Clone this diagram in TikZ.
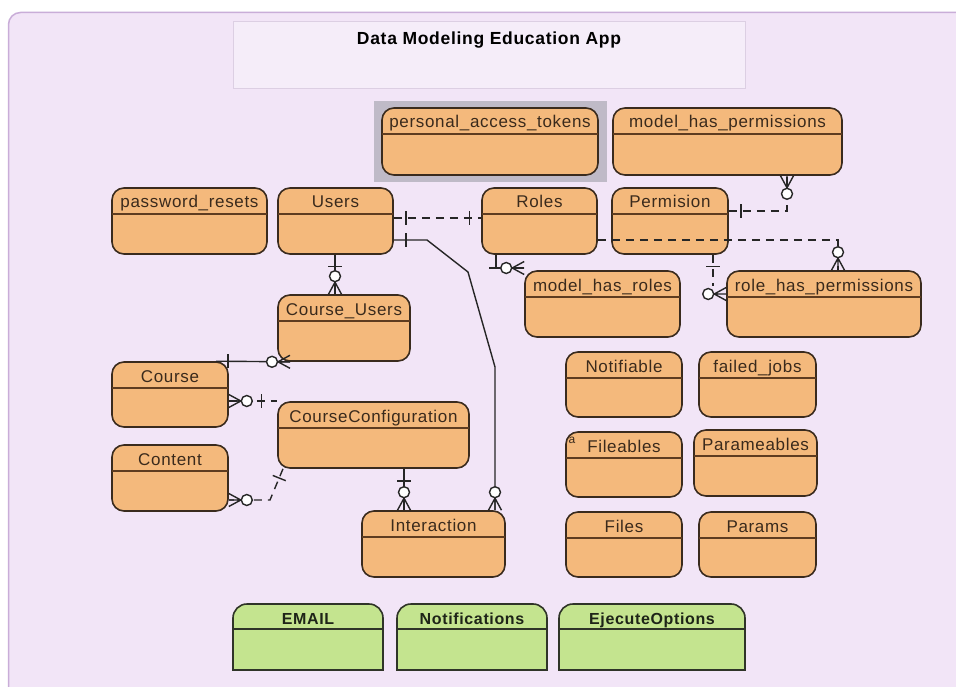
\documentclass[tikz,border=0pt]{standalone}
\usepackage{fontspec}
\setmainfont{Liberation Sans}[LetterSpace=4]
\usetikzlibrary{fit,calc}
\definecolor{bg}{HTML}{F2E5F7}
\definecolor{framec}{HTML}{C9ADD8}
\definecolor{orfill}{HTML}{F4B97C}
\definecolor{ordraw}{HTML}{3A2B1E}
\definecolor{orline}{HTML}{5E3C20}
\definecolor{grfill}{HTML}{C4E48F}
\definecolor{grdraw}{HTML}{2F3428}
\definecolor{txt}{HTML}{3A2A1C}
\definecolor{grtxt}{HTML}{1E2418}
\definecolor{conn}{HTML}{262626}
\definecolor{hilite}{HTML}{BFBAC7}
\definecolor{titlefill}{HTML}{F5EDF9}
\definecolor{titledraw}{HTML}{DCCFE3}
\newcommand\ent[6]{%
  \node[entbox, fit={(#2,#3) (#4,#5)}] (#1) {};
  \draw[hline] (#2,#3+26) -- (#4,#3+26);
  \node[hdr] at ({(#2+#4)/2},#3+20) {#6};
}
\newcommand\gent[6]{%
  \node[inner sep=0pt, fit={(#2,#3) (#4,#5)}] (#1) {};
  \draw[grbox] (#2,#5) -- (#2,#3+14) .. controls (#2,#3+6.3) and (#2+6.3,#3) .. (#2+14,#3) -- (#4-14,#3) .. controls (#4-6.3,#3) and (#4,#3+6.3) .. (#4,#3+14) -- (#4,#5) -- cycle;
  \draw[grbox] (#2,#3+25) -- (#4,#3+25);
  \node[ghdr] at ({(#2+#4)/2},#3+20) {#6};
}
\begin{document}
\begin{tikzpicture}[x=1pt,y=-1pt,
  entbox/.style={draw=ordraw, fill=orfill, line width=1.6pt, rounded corners=12pt, inner sep=0pt},
  hline/.style={draw=orline, line width=1.4pt},
  hdr/.style={text=txt, font=\fontsize{17}{20}\selectfont, inner sep=0pt, anchor=base},
  grbox/.style={draw=grdraw, fill=grfill, line width=1.6pt},
  ghdr/.style={text=grtxt, font=\fontsize{16}{19}\selectfont\bfseries, inner sep=0pt, anchor=base},
  conn/.style={draw=conn, line width=1.4pt},
  cdash/.style={conn, dash pattern=on 8pt off 6pt},
  pics/crow/.style={code={
    \draw[conn, solid] (-12,0) -- (0,-6.5) (-12,0) -- (0,0) (-12,0) -- (0,6.5);
    \draw[conn, solid, fill=white] (-18,0) circle[radius=5.5pt];
  }},
  pics/one/.style={code={\draw[conn, solid] (-#1,-7) -- (-#1,7);}},
  pics/one/.default=12]
\useasboundingbox (0,0) rectangle (956,687);
\clip (0,0) rectangle (956,687);
\fill[white] (0,0) rectangle (956,687);
\draw[fill=bg, draw=framec, line width=1.5pt, rounded corners=12pt] (8.5,12.5) rectangle (990,720);

% title
\node[fit={(233,22) (745,89)}, inner sep=0pt, draw=titledraw, fill=titlefill, line width=1pt] (title) {};
\node[anchor=base, inner sep=0pt, text=black, font=\fontsize{17.5}{20}\selectfont\bfseries] (titletext) at (489,45) {Data Modeling Education App};

% highlight
\fill[hilite] (374,101) rectangle (607,182);

% entities
\ent{pat}{382}{108}{598}{175}{personal\_access\_tokens}
\ent{mhp}{613}{108}{842}{175}{model\_has\_permissions}
\ent{pwr}{112}{188}{267}{254}{password\_resets}
\ent{Users}{278}{188}{393}{254}{Users}
\ent{Roles}{482}{188}{597}{254}{Roles}
\ent{Permision}{612}{188}{728}{254}{Permision}
\ent{mhr}{525}{271}{680}{337}{model\_has\_roles}
\ent{rhp}{727}{271}{921}{337}{role\_has\_permissions}
\ent{CourseUsers}{278}{295}{410}{361}{Course\_Users}
\ent{Course}{112}{362}{228}{427}{Course}
\ent{CourseConfiguration}{278}{402}{469}{468}{CourseConfiguration}
\ent{Content}{112}{445}{228}{511}{Content}
\ent{Interaction}{362}{511}{505}{577}{Interaction}
\ent{Notifiable}{566}{352}{682}{417}{Notifiable}
\ent{failedjobs}{699}{352}{816}{417}{failed\_jobs}
\ent{Fileables}{566}{432}{682}{497}{Fileables}
\ent{Parameables}{694}{430}{817}{496}{Parameables}
\ent{Files}{566}{512}{682}{577}{Files}
\ent{Params}{699}{512}{816}{577}{Params}
\node[anchor=base, inner sep=0pt, text=txt, font=\fontsize{12}{12}\selectfont] (fileicon) at (572,443) {a};

\gent{EMAIL}{233}{604}{383}{670}{EMAIL}
\gent{Notifications}{397}{604}{547}{670}{Notifications}
\gent{EjecuteOptions}{559}{604}{745}{670}{EjecuteOptions}

% connectors
\draw[cdash] (Users.east |- 0,218) -- (Roles.west |- 0,218);
\draw[conn] (Users.east |- 0,240) -- (427,240) -- (468,272) -- (495,367) -- (Interaction.north -| 495,0);
\draw[conn] (Users.south -| 335,0) -- (CourseUsers.north -| 335,0);
\draw[conn] (Roles.south -| 496,0) -- (496,268) -- (mhr.west |- 0,268);
\draw[conn] (489,268) -- (496,268);
\draw[cdash] (Permision.east |- 0,211) -- (787,211) -- (mhp.south -| 787,0);
\draw[cdash] (Roles.east |- 0,240) -- (838,240) -- (rhp.north -| 838,0);
\draw[cdash] (Permision.south -| 713,0) -- (713,286);
\draw[conn] (Course.north -| 216,0) -- (CourseUsers.south -| 290,0);
\draw[cdash] (Course.east |- 0,401) -- (CourseConfiguration.west |- 0,401);
\draw[cdash] (CourseConfiguration.south -| 283,0) -- (270,500) -- (Content.east |- 0,500);
\draw[conn] (CourseConfiguration.south -| 404,0) -- (Interaction.north -| 404,0);

% markers
\path (Users.east |- 0,218) pic[rotate=180]{one};
\path (Roles.west |- 0,218) pic{one};
\path (Users.east |- 0,240) pic[rotate=180]{one};
\path (Interaction.north -| 495,0) pic[rotate=-90]{crow};
\path (Users.south -| 335,0) pic[rotate=90]{one};
\path (CourseUsers.north -| 335,0) pic[rotate=-90]{crow};
\path (mhr.west |- 0,268) pic{crow};
\path (Permision.east |- 0,211) pic[rotate=180]{one};
\path (mhp.south -| 787,0) pic[rotate=90]{crow};
\path (rhp.north -| 838,0) pic[rotate=-90]{crow};
\path (Permision.south -| 713,0) pic[rotate=90]{one};
\path (rhp.west |- 0,294) pic{crow};
\path (Course.north -| 216,0) pic[rotate=180]{one};
\path (CourseUsers.south -| 290,0) pic{crow};
\path (Course.east |- 0,401) pic[rotate=180]{crow};
\path (CourseConfiguration.west |- 0,401) pic{one=16};
\path (CourseConfiguration.south -| 283,0) pic[rotate=68]{one=10};
\path (Content.east |- 0,500) pic[rotate=180]{crow};
\path (CourseConfiguration.south -| 404,0) pic[rotate=90]{one};
\path (Interaction.north -| 404,0) pic[rotate=-90]{crow};
\end{tikzpicture}
\end{document}
